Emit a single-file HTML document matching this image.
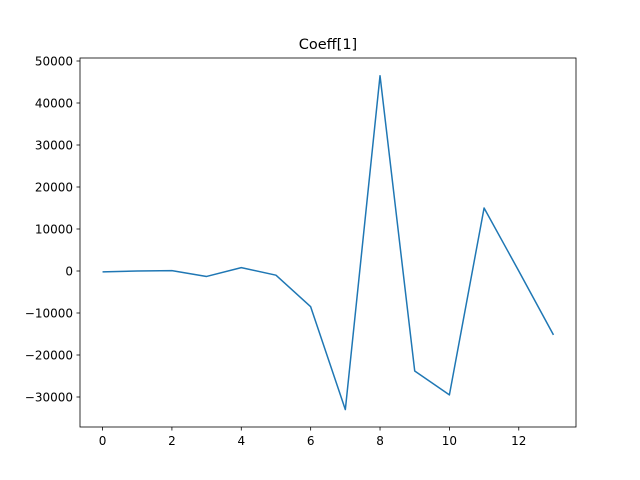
<!DOCTYPE html>
<html><head><meta charset="utf-8"><style>body{margin:0;background:#fff}svg{display:block;font-family:"DejaVu Sans","Liberation Sans",sans-serif}</style></head>
<body>
<svg id="c" width="640" height="480">
<rect x="0" y="0" width="640" height="480" fill="#fff"/>
<text x="328" y="49" font-size="14.5" text-anchor="middle">Coeff[1]</text>
<g id="ax"></g>
<rect x="80" y="58" width="496" height="369" fill="none" stroke="#000" stroke-width="0.8"/>
</svg>
<script>
const xs = [0,1,2,3,4,5,6,7,8,9,10,11,12,13];
const ys = [-200,0,100,-1300,800,-1000,-8500,-33000,46500,-23800,-29500,15000,0,-15200];
const xTicks = [0,2,4,6,8,10,12];
const yTicks = [-30000,-20000,-10000,0,10000,20000,30000,40000,50000];
const L=80,R=576,T=58,B=427;
const xmin=-0.65,xmax=13.65,ymin=-37143,ymax=50714;
const X=v=>L+(v-xmin)/(xmax-xmin)*(R-L);
const Y=v=>B-(v-ymin)/(ymax-ymin)*(B-T);
const g=document.getElementById('ax');
const ns='http://www.w3.org/2000/svg';
function mk(t,a){const e=document.createElementNS(ns,t);for(const k in a)e.setAttribute(k,a[k]);g.appendChild(e);return e;}
xTicks.forEach(v=>{
 const l=mk('line',{x1:X(v),x2:X(v),y1:B,y2:B+3.5,stroke:'#000','stroke-width':0.8});
 
 
 const t=mk('text',{x:X(v),y:B+18,'font-size':12,'text-anchor':'middle'});
 t.textContent=v;
 
 
});
yTicks.forEach(v=>{
 const l=mk('line',{x1:L-3.5,x2:L,y1:Y(v),y2:Y(v),stroke:'#000','stroke-width':0.8});
 
 
 const t=mk('text',{x:L-7,y:Y(v)+4.5,'font-size':12,'text-anchor':'end'});
 t.textContent=v<0?'\u2212'+(-v):v;
 
 
});
const p=mk('polyline',{points:xs.map((x,i)=>X(x)+','+Y(ys[i])).join(' '),fill:'none',stroke:'#1f77b4','stroke-width':1.5,'stroke-linejoin':'round'});


</script>
</body></html>
